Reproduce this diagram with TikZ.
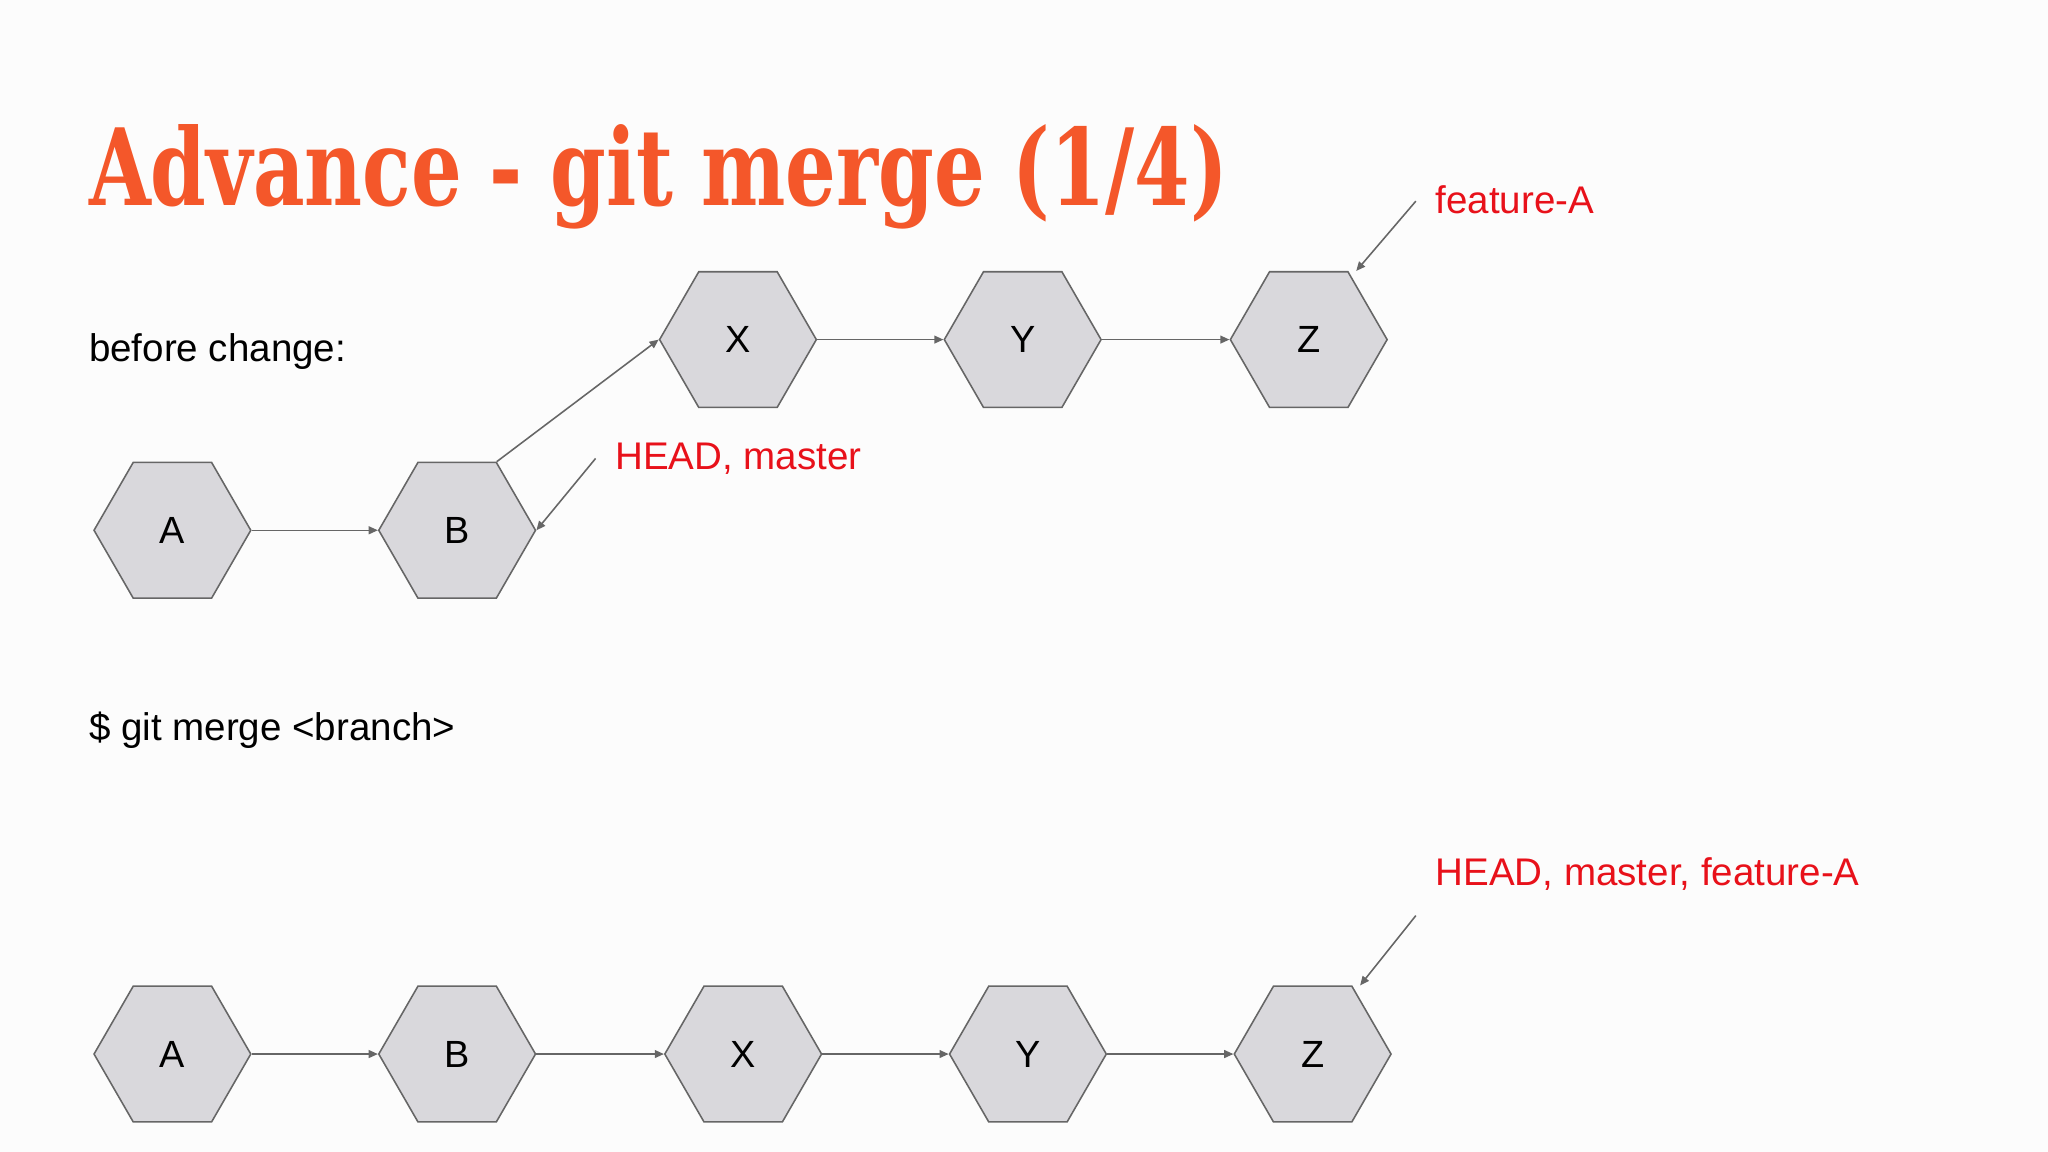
\documentclass[tikz,border=0pt]{standalone}
\usepackage{fontspec}
\setmainfont{Liberation Sans}
\newfontfamily\titlefont{DejaVu Serif}
\usetikzlibrary{shapes.geometric,arrows.meta}
\definecolor{hexfill}{HTML}{D9D8DC}
\definecolor{hexline}{HTML}{666666}
\definecolor{lbl}{HTML}{E8111A}
\definecolor{ttl}{HTML}{F4572A}
\begin{document}
\begin{tikzpicture}[x=1pt,y=-1pt,
  commit/.style={regular polygon,regular polygon sides=6,minimum size=120pt,inner sep=0pt,fill=hexfill,draw=hexline,line width=1.2pt,font=\fontsize{29}{33}\selectfont},
  conn/.style={draw=hexline,line width=1.2pt,-{Triangle[length=7pt,width=6pt]}},
  lab/.style={text=lbl,anchor=west,font=\fontsize{29.5}{33}\selectfont,inner sep=0pt},
  txt/.style={anchor=west,font=\fontsize{29.5}{33}\selectfont,inner sep=0pt}]
\fill[white!98!gray] (0,0) rectangle (1568,882);
\useasboundingbox (0,0) rectangle (1568,882);
\node[anchor=base west,inner sep=0pt,text=ttl] (title) at (68,157) {\resizebox{872pt}{62pt}{\titlefont\bfseries Advance - git merge (1/4)}};
\node[txt] (t1) at (68,269) {before change:};
\node[txt] (t2) at (68,559) {\$ git merge <branch>};
% top
\node[commit] (a1) at (132,406) {A};
\node[commit] (b1) at (350,406) {B};
\node[commit] (x1) at (565,260) {X};
\node[commit] (y1) at (783,260) {Y};
\node[commit] (z1) at (1002,260) {Z};
\draw[conn] (a1.east) -- (b1.west);
\draw[conn] (b1.60) -- (x1.west);
\draw[conn] (x1.east) -- (y1.west);
\draw[conn] (y1.east) -- (z1.west);
\node[lab] (fa) at (1099,153) {feature-A};
\node[lab] (hm) at (471,351) {HEAD, master};
\coordinate (fas) at (1084,154);
\coordinate (hms) at (456,351);
\draw[conn] (fas) -- ([xshift=6pt]z1.60);
\draw[conn] (hms) -- (b1.east);
% bottom
\node[commit] (a2) at (132,807) {A};
\node[commit] (b2) at (350,807) {B};
\node[commit] (x2) at (569,807) {X};
\node[commit] (y2) at (787,807) {Y};
\node[commit] (z2) at (1005,807) {Z};
\draw[conn] (a2.east) -- (b2.west);
\draw[conn] (b2.east) -- (x2.west);
\draw[conn] (x2.east) -- (y2.west);
\draw[conn] (y2.east) -- (z2.west);
\node[lab] (hmf) at (1099,669) {HEAD, master, feature-A};
\coordinate (hmfs) at (1084,701);
\draw[conn] (hmfs) -- ([xshift=6pt]z2.60);
\end{tikzpicture}
\end{document}
